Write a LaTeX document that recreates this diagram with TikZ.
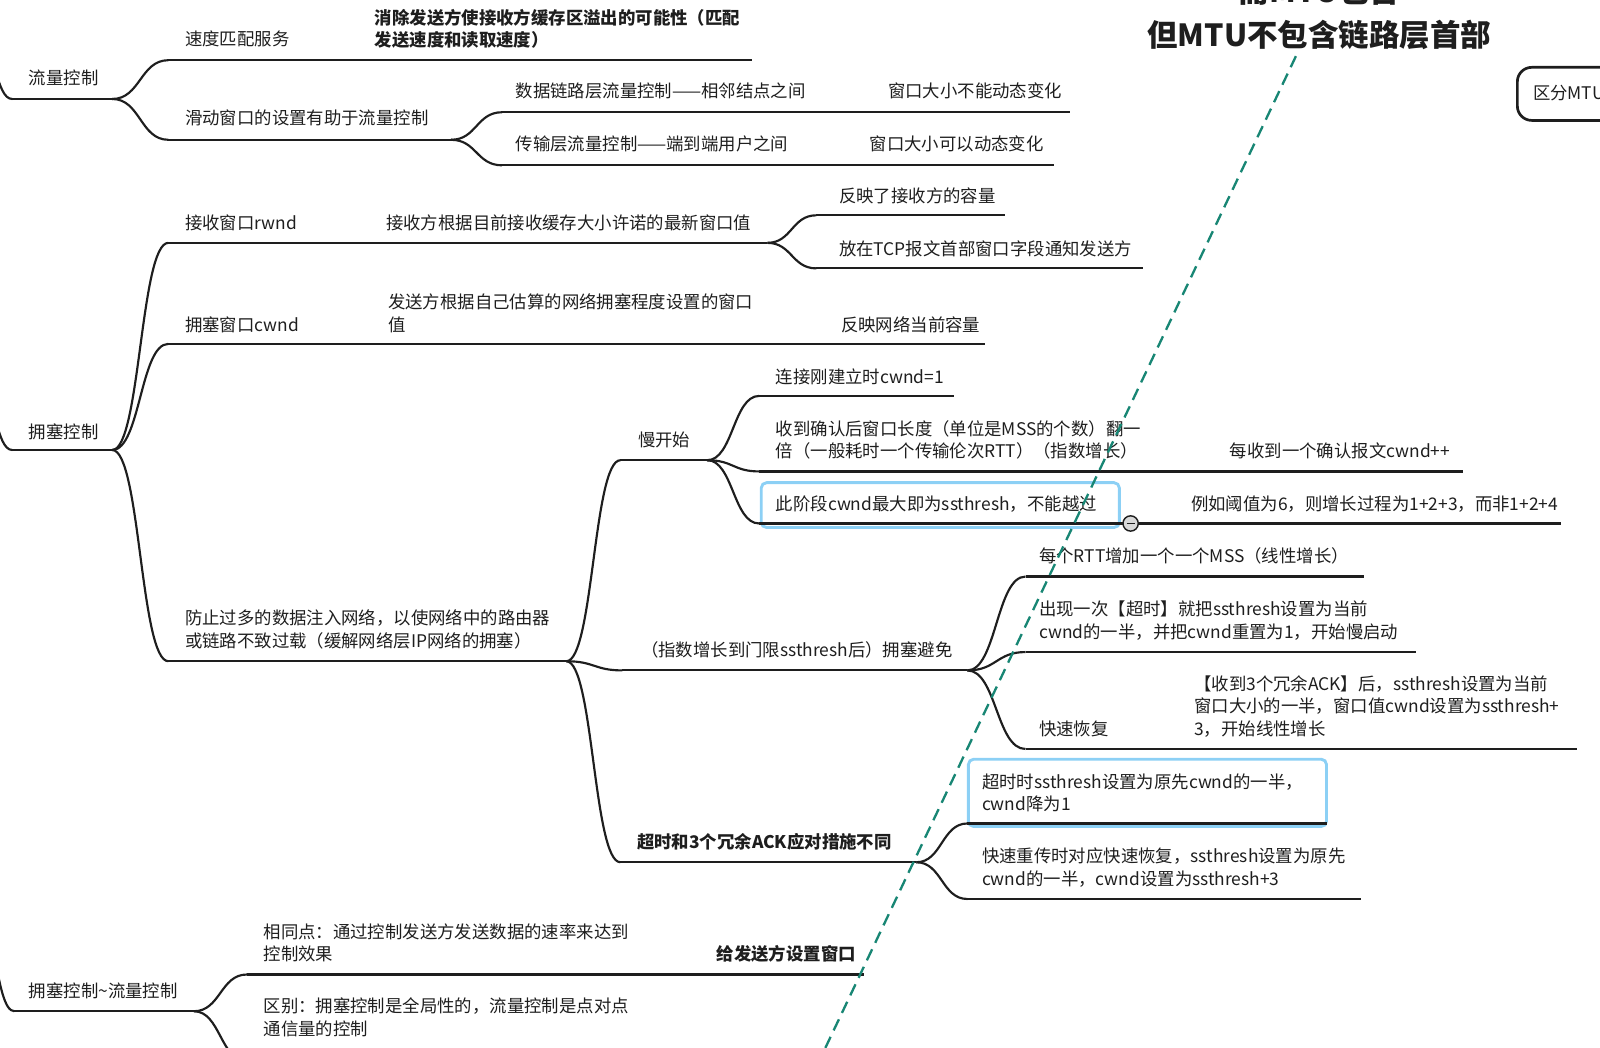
\documentclass[tikz,border=0pt]{standalone}
\usepackage{fontspec}
\setmainfont{Noto Sans CJK SC}
\usetikzlibrary{calc}
\definecolor{ink}{RGB}{30,30,30}
\definecolor{tealdash}{RGB}{24,134,116}
\definecolor{sel}{RGB}{140,208,245}
\newcommand\sbr[2]{\draw[br] let \p1=(#1), \p2=(#2) in (#1) .. controls ({0.5*\x1+0.5*\x2},\y1) and ({0.5*\x1+0.5*\x2},\y2) .. (#2);}
\begin{document}
\begin{tikzpicture}[x=0.02cm,y=-0.02cm,
  txt/.style={anchor=west,inner sep=0pt,align=left,text=ink,font=\fontsize{9.7}{12.5}\selectfont},
  bold/.style={txt,font=\fontsize{9.7}{12.5}\selectfont\bfseries},
  br/.style={draw=ink,line width=1.2pt},
  selbox/.style={draw=sel,line width=1.6pt,rounded corners=3pt}]
\useasboundingbox (0,0) rectangle (1568,1027);
\clip (0,0) rectangle (1568,1027);

% selection boxes
\draw[selbox] (746,473) rectangle (1097,517);
\draw[selbox] (949,744) rectangle (1300,810);

% coordinates of underlines
\coordinate (oA) at (-20,45);
\coordinate (sA) at (12,97);  \coordinate (eA) at (110,97);
\coordinate (sA1) at (165,59); \coordinate (eA1) at (737,59);
\coordinate (sA2) at (165,137); \coordinate (eA2) at (442,137);
\coordinate (sA21) at (492,110); \coordinate (eA21) at (1049,110);
\coordinate (sA22) at (492,162); \coordinate (eA22) at (1033,162);

\coordinate (oB) at (-20,385);
\coordinate (sB) at (12,441);  \coordinate (eB) at (110,441);
\coordinate (sB1) at (165,238); \coordinate (eB1) at (752,238);
\coordinate (sB11) at (800,211); \coordinate (eB11) at (985,211);
\coordinate (sB12) at (800,263); \coordinate (eB12) at (1120,263);
\coordinate (sB2) at (165,337); \coordinate (eB2) at (965,337);
\coordinate (sB3) at (165,648); \coordinate (eB3) at (555,648);
\coordinate (sB31) at (608,451); \coordinate (eB31) at (693,451);
\coordinate (sB311) at (744,388); \coordinate (eB311) at (935,388);
\coordinate (sB312) at (744,462); \coordinate (eB312) at (1434,462);
\coordinate (sB313) at (744,513); \coordinate (eB313) at (1530,513);
\coordinate (sB32) at (610,657); \coordinate (eB32) at (948,657);
\coordinate (sB321) at (1005,565); \coordinate (eB321) at (1337,565);
\coordinate (sB322) at (1005,639); \coordinate (eB322) at (1388,639);
\coordinate (sB323) at (1005,734); \coordinate (eB323) at (1545,734);
\coordinate (sB33) at (608,845); \coordinate (eB33) at (898,845);
\coordinate (sB331) at (948,807); \coordinate (eB331) at (1300,807);
\coordinate (sB332) at (948,881); \coordinate (eB332) at (1334,881);

\coordinate (oC) at (-25,880);
\coordinate (sC) at (14,991);  \coordinate (eC) at (190,991);
\coordinate (sC1) at (242,955); \coordinate (eC1) at (847,955);
\coordinate (sC2) at (242,1040); \coordinate (eC2) at (900,1040);

% underlines
\foreach \n in {A,A1,A2,A21,A22,B,B1,B11,B12,B2,B3,B31,B311,B312,B313,B32,B321,B322,B323,B33,B331,B332,C,C1,C2}
  \draw[br] (s\n) -- (e\n);

% branch curves
\sbr{oA}{sA} \sbr{eA}{sA1} \sbr{eA}{sA2} \sbr{eA2}{sA21} \sbr{eA2}{sA22}
\sbr{oB}{sB} \sbr{eB}{sB1} \sbr{eB}{sB2} \sbr{eB}{sB3}
\sbr{eB1}{sB11} \sbr{eB1}{sB12}
\sbr{eB3}{sB31} \sbr{eB3}{sB32} \sbr{eB3}{sB33}
\sbr{eB31}{sB311} \sbr{eB31}{sB312} \sbr{eB31}{sB313}
\sbr{eB32}{sB321} \sbr{eB32}{sB322} \sbr{eB32}{sB323}
\sbr{eB33}{sB331} \sbr{eB33}{sB332}
\sbr{oC}{sC} \sbr{eC}{sC1} \sbr{eC}{sC2}

% texts
\node[txt] (tA) at (28,76) {流量控制};
\node[txt] (tA1) at (181,38) {速度匹配服务};
\node[bold] (tA1a) at (367,28) {消除发送方使接收方缓存区溢出的可能性（匹配\\发送速度和读取速度）};
\node[txt] (tA2) at (181,116) {滑动窗口的设置有助于流量控制};
\node[txt] (tA21) at (505,89) {数据链路层流量控制——相邻结点之间};
\node[txt] (tA21a) at (870,89) {窗口大小不能动态变化};
\node[txt] (tA22) at (505,141) {传输层流量控制——端到端用户之间};
\node[txt] (tA22a) at (852,141) {窗口大小可以动态变化};

\node[txt] (tB) at (28,423) {拥塞控制};
\node[txt] (tB1) at (181,218) {接收窗口rwnd};
\node[txt] (tB1a) at (378,218) {接收方根据目前接收缓存大小许诺的最新窗口值};
\node[txt] (tB11) at (822,192) {反映了接收方的容量};
\node[txt] (tB12) at (822,244) {放在TCP报文首部窗口字段通知发送方};
\node[txt] (tB2) at (181,318) {拥塞窗口cwnd};
\node[txt] (tB2a) at (380,307) {发送方根据自己估算的网络拥塞程度设置的窗口\\值};
\node[txt] (tB2b) at (824,318) {反映网络当前容量};
\node[txt] (tB3) at (181,617) {防止过多的数据注入网络，以使网络中的路由器\\或链路不致过载（缓解网络层IP网络的拥塞）};
\node[txt] (tB31) at (625,431) {慢开始};
\node[txt] (tB311) at (760,369) {连接刚建立时cwnd=1};
\node[txt] (tB312) at (760,431) {收到确认后窗口长度（单位是MSS的个数）翻一\\倍（一般耗时一个传输伦次RTT）（指数增长）};
\node[txt] (tB312a) at (1205,442) {每收到一个确认报文cwnd++};
\node[txt] (tB313) at (760,494) {此阶段cwnd最大即为ssthresh，不能越过};
\node[txt] (tB313a) at (1167,494) {例如阈值为6，则增长过程为1+2+3，而非1+2+4};
\node[txt] (tB32) at (628,637) {（指数增长到门限ssthresh后）拥塞避免};
\node[txt] (tB321) at (1018,545) {每个RTT增加一个一个MSS（线性增长）};
\node[txt] (tB322) at (1018,608) {出现一次【超时】就把ssthresh设置为当前\\cwnd的一半，并把cwnd重置为1，开始慢启动};
\node[txt] (tB323) at (1018,714) {快速恢复};
\node[txt] (tB323a) at (1170,692) {【收到3个冗余ACK】后，ssthresh设置为当前\\窗口大小的一半，窗口值cwnd设置为ssthresh+\\3，开始线性增长};
\node[bold] (tB33) at (624,825) {超时和3个冗余ACK应对措施不同};
\node[txt] (tB331) at (962,777) {超时时ssthresh设置为原先cwnd的一半，\\cwnd降为1};
\node[txt] (tB332) at (962,850) {快速重传时对应快速恢复，ssthresh设置为原先\\cwnd的一半，cwnd设置为ssthresh+3};

\node[txt] (tC) at (28,971) {拥塞控制\textasciitilde 流量控制};
\node[txt] (tC1) at (258,924) {相同点：通过控制发送方发送数据的速率来达到\\控制效果};
\node[bold] (tC1a) at (702,935) {给发送方设置窗口};
\node[txt] (tC2) at (258,997) {区别：拥塞控制是全局性的，流量控制是点对点\\通信量的控制};

% collapse marker
\node[circle,draw=ink,fill=gray!30,minimum size=0.3cm,inner sep=0pt,line width=0.8pt] (col) at (1108,513) {};
\draw[ink,line width=0.9pt] ($(col)+(-4,0)$) -- ($(col)+(4,0)$);

% title
\node[inner sep=0pt,align=center,text=ink,font=\fontsize{17}{24.4}\selectfont\bfseries] (title) at (1293,12.5) {而MTU包含\\但MTU不包含链路层首部};

% right box
\draw[draw=ink,line width=1.5pt,rounded corners=8] (1487,66) rectangle (1640,118);
\node[txt] (mtu) at (1502,91) {区分MTU};

% dashed connector
\coordinate (dA) at (1270,55);
\coordinate (dB) at (805,1035);
\draw[tealdash,line width=1.3pt,dash pattern=on 0.24cm off 0.14cm] (dA) -- (dB);
\end{tikzpicture}
\end{document}
